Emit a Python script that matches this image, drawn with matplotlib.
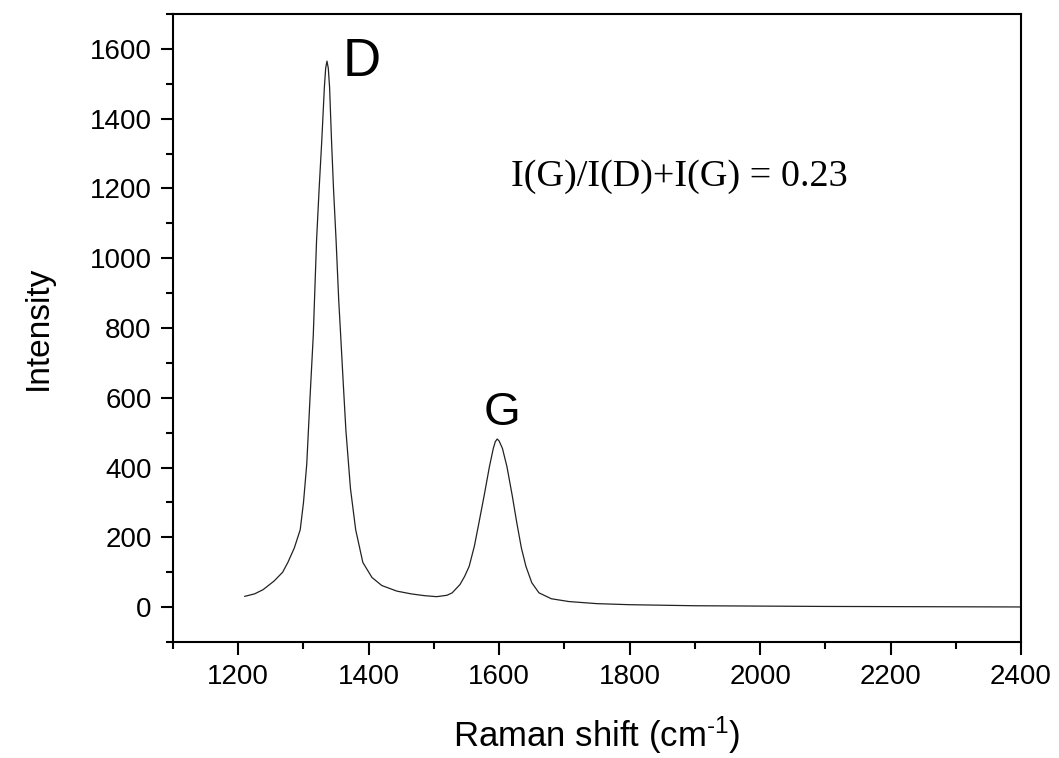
import matplotlib
matplotlib.use("Agg")
import matplotlib.pyplot as plt
from matplotlib.ticker import MultipleLocator

# Raman spectrum
raman_shift = [1210, 1225, 1238, 1255, 1268, 1276, 1286, 1295, 1300, 1305,
               1310, 1315, 1320, 1324, 1328, 1332, 1334, 1336, 1338, 1340,
               1343, 1346, 1350, 1354, 1357, 1361, 1365, 1372, 1380, 1391,
               1405, 1420, 1443, 1465, 1485, 1504, 1520, 1528, 1540, 1547,
               1554, 1562, 1569, 1577, 1585, 1591, 1594, 1597, 1600, 1605,
               1612, 1620, 1627, 1634, 1641, 1650, 1661, 1680, 1707, 1750,
               1800, 1900, 2000, 2100, 2200, 2300, 2400]
intensity = [31, 38, 50, 75, 100, 128, 170, 222, 300, 410,
             600, 779, 1050, 1200, 1336, 1490, 1545, 1565, 1545, 1490,
             1336, 1200, 1050, 880, 779, 640, 507, 340, 222, 128,
             85, 62, 46, 38, 33, 30, 34, 41, 65, 88,
             117, 175, 242, 320, 402, 455, 474, 482, 476, 455,
             402, 320, 242, 170, 117, 70, 41, 24, 16, 10,
             7, 4, 3, 2, 1.5, 1, 0.5]

x_ticks = [1200, 1400, 1600, 1800, 2000, 2200, 2400]
y_ticks = [0, 200, 400, 600, 800, 1000, 1200, 1400, 1600]
peak_labels = ["D", "G"]
ratio_text = "I(G)/I(D)+I(G) = 0.23"

plt.rcParams['mathtext.default'] = 'regular'
plt.rcParams['mathtext.fontset'] = 'custom'
plt.rcParams['mathtext.rm'] = 'Liberation Sans'
plt.rcParams['lines.solid_joinstyle'] = 'round'

fig = plt.figure(figsize=(10.59, 7.58), dpi=100)
ax = fig.add_axes([0.1634, 0.1530, 0.8007, 0.8285])

ax.plot(raman_shift, intensity, color='#222222', lw=0.9)

ax.set_xlim(1100, 2400)
ax.set_ylim(-100, 1700)
ax.set_xticks(x_ticks)
ax.set_yticks(y_ticks)
ax.xaxis.set_minor_locator(MultipleLocator(100))
ax.yaxis.set_minor_locator(MultipleLocator(100))

for s in ax.spines.values():
    s.set_linewidth(1.5)
ax.tick_params(which='major', direction='out', length=9, width=1.5,
               labelsize=20, pad=6.5)
ax.tick_params(which='minor', direction='out', length=5, width=1.5)
for lab in ax.get_xticklabels() + ax.get_yticklabels():
    lab.set_fontfamily('Liberation Sans')

ax.set_xlabel(r'Raman shift (cm$^{\text{-}1}$)', fontsize=25,
              fontfamily='Liberation Sans', labelpad=18)
ax.set_ylabel('Intensity', fontsize=24, fontfamily='Liberation Sans',
              labelpad=26)

ax.text(1360, 1522, peak_labels[0], fontsize=38, fontfamily='Liberation Sans',
        ha='left', va='baseline')
ax.text(1604, 522, peak_labels[1], fontsize=34, fontfamily='Liberation Sans',
        ha='center', va='baseline')
ax.text(1618, 1208, ratio_text, fontsize=27.5, fontfamily='Liberation Serif',
        ha='left', va='baseline')

fig.savefig('out.png', dpi=100)
